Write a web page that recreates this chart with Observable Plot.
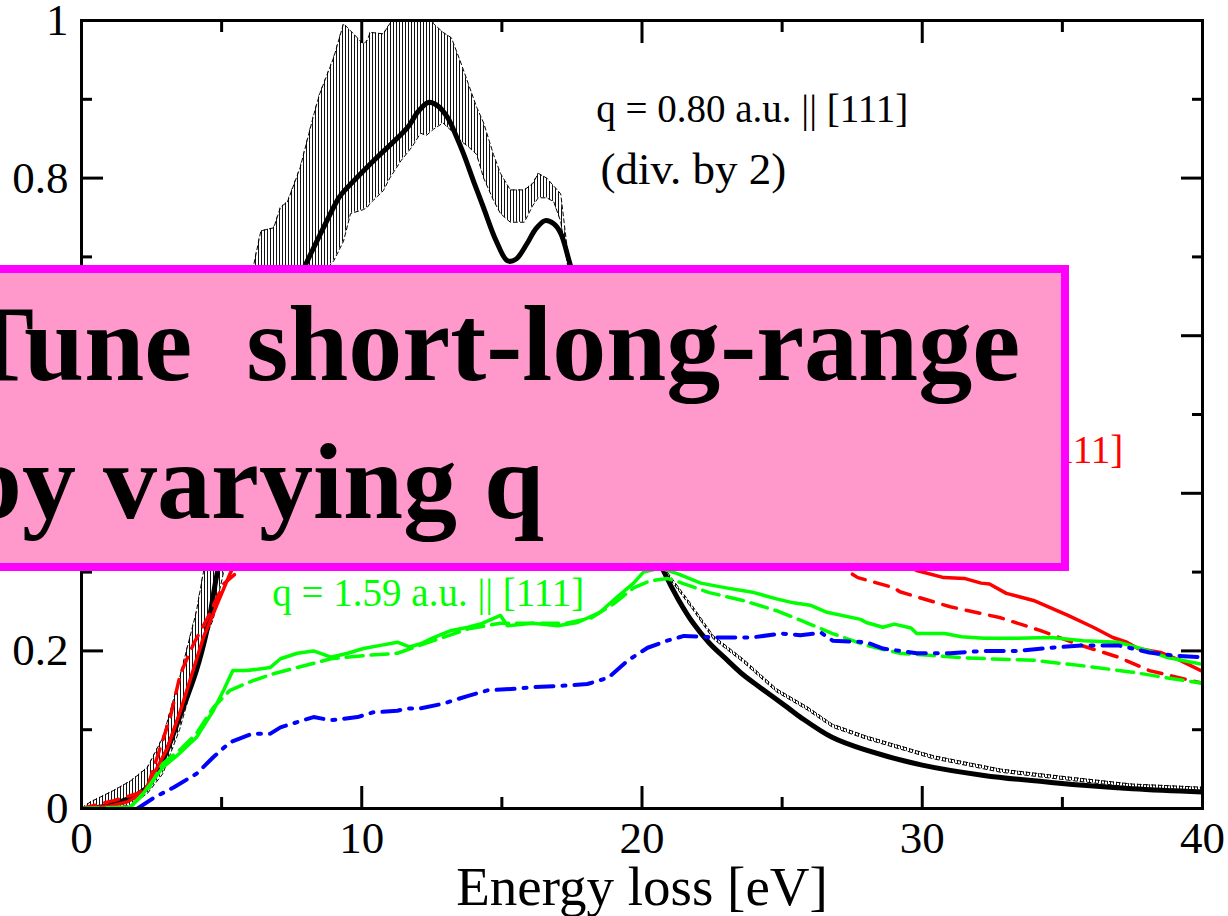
<!DOCTYPE html>
<html>
<head>
<meta charset="utf-8">
<script src="https://cdn.jsdelivr.net/npm/d3@7"></script>
<script src="https://cdn.jsdelivr.net/npm/@observablehq/plot@0.6"></script>
<style>
  html, body { margin: 0; padding: 0; background: #fff; overflow: hidden; }
  #wrap { position: relative; width: 1228px; height: 916px; overflow: hidden; }
  #chart { position: absolute; left: 0; top: 0; }
  #note {
    position: absolute; left: -60px; top: 265px; width: 1129px; height: 306px;
    box-sizing: border-box; border: 8px solid #ff00ff; background: #ff99cc;
    z-index: 5;
  }
  #note div {
    position: absolute; left: 14px; top: 2px; white-space: pre;
    font-family: "Liberation Serif", "Times New Roman", serif; font-weight: bold;
    font-size: 108px; line-height: 138px; color: #000;
  }
</style>
</head>
<body>
<svg width="0" height="0" style="position:absolute">
  <defs>
    <pattern id="vhatch" width="3" height="4" patternUnits="userSpaceOnUse">
      <rect x="0" y="0" width="1" height="4" fill="#111"></rect>
    </pattern>
  </defs>
</svg>
<div id="wrap">
  <div id="chart"></div>
  <div id="note"><div id="noteText"></div></div>
</div>
<script>
// Axis ticks and labels
const xMajor = [0, 10, 20, 30, 40];
const xMinor = [5, 15, 25, 35];
const xTickLabels = ["0", "10", "20", "30", "40"];
const yMajor = [0, 0.2, 0.4, 0.6, 0.8, 1];
const yMinor = [0.1, 0.3, 0.5, 0.7, 0.9];
const yTickLabels = ["0", "0.2", "0.4", "0.6", "0.8", "1"];
const xTitle = "Energy loss [eV]";

// Text
const labelQ080 = "q = 0.80 a.u. || [111]";
const labelDiv2 = "(div. by 2)";
const labelQ119 = "q = 1.19 a.u. || [111]";
const labelQ159 = "q = 1.59 a.u. || [111]";
const noteLines = ["Tune  short-long-range", "by varying q"];

// q = 0.80 a.u., calculation (divided by 2)
const theoryE =    [0, 0.5, 1.0, 1.5, 2.0, 2.35, 2.9, 3.5, 4.1, 4.5, 4.85, 5.5, 6.2, 7.0, 7.6, 8.06, 8.4, 9.1, 9.24, 10.42, 11.63, 12.0, 12.38, 12.7, 13.06, 13.35, 13.63, 14.0, 14.34, 14.8, 15.2, 15.5, 15.9, 16.2, 16.55, 16.85, 17.1, 17.4, 18.0, 18.6, 19.2, 19.8, 20.3, 20.76, 21.3, 21.83, 22.4, 23.05, 23.6, 24.2, 25.2, 25.65, 26.8, 28.0, 30.0, 32.2, 34.6, 37.5, 40];
const theoryLoss = [0, 0.001, 0.004, 0.01, 0.018, 0.027, 0.061, 0.116, 0.175, 0.23, 0.30, 0.40, 0.50, 0.60, 0.66, 0.695, 0.72, 0.77, 0.778, 0.822, 0.864, 0.884, 0.896, 0.892, 0.877, 0.855, 0.831, 0.795, 0.763, 0.72, 0.695, 0.697, 0.717, 0.735, 0.746, 0.742, 0.73, 0.695, 0.62, 0.54, 0.46, 0.39, 0.34, 0.302, 0.265, 0.235, 0.21, 0.188, 0.17, 0.154, 0.128, 0.116, 0.09, 0.074, 0.055, 0.042, 0.033, 0.025, 0.021];

// q = 0.80 a.u., measured band (lower / upper bound)
const bandE =    [0, 0.3, 0.7, 1.15, 1.75, 2.35, 2.9, 3.5, 4.1, 4.35, 4.7, 5.07, 5.5, 6.14, 6.4, 6.86, 7.1, 7.35, 7.8, 8.3, 8.5, 9.0, 9.35, 9.6, 10.06, 10.2, 10.3, 10.77, 11.0, 11.4, 11.8, 12.1, 12.3, 12.56, 12.9, 13.2, 13.5, 13.8, 14.1, 14.35, 14.7, 14.95, 15.3, 15.8, 16.1, 16.3, 16.6, 16.85, 17.1, 17.3, 17.5, 18.0, 19.0, 20.0, 20.9, 21.8, 22.55, 23.6, 24.8, 25.9, 26.8, 28.0, 30.4, 32.8, 35.2, 37.5, 40];
const bandLow =  [0, 0, 0.001, 0.002, 0.004, 0.019, 0.044, 0.10, 0.175, 0.21, 0.24, 0.30, 0.36, 0.44, 0.47, 0.52, 0.55, 0.58, 0.62, 0.66, 0.675, 0.695, 0.72, 0.755, 0.76, 0.763, 0.768, 0.784, 0.80, 0.822, 0.84, 0.857, 0.854, 0.862, 0.87, 0.86, 0.848, 0.84, 0.83, 0.80, 0.772, 0.755, 0.744, 0.744, 0.765, 0.775, 0.775, 0.77, 0.745, 0.70, 0.65, 0.59, 0.45, 0.34, 0.296, 0.253, 0.215, 0.186, 0.148, 0.125, 0.103, 0.088, 0.063, 0.046, 0.036, 0.027, 0.023];
const bandHigh = [0, 0.008, 0.015, 0.023, 0.035, 0.052, 0.09, 0.166, 0.25, 0.30, 0.37, 0.44, 0.52, 0.689, 0.733, 0.737, 0.763, 0.77, 0.813, 0.882, 0.907, 0.953, 0.996, 0.987, 0.97, 0.975, 0.985, 0.983, 0.996, 1.02, 1.04, 1.03, 1.02, 0.996, 0.985, 0.978, 0.95, 0.92, 0.89, 0.87, 0.83, 0.806, 0.785, 0.785, 0.793, 0.806, 0.80, 0.79, 0.78, 0.72, 0.67, 0.61, 0.47, 0.35, 0.30, 0.257, 0.219, 0.19, 0.152, 0.129, 0.107, 0.092, 0.067, 0.05, 0.04, 0.031, 0.027];

// q = 1.19 a.u.
const redSolidE =    [0, 1.0, 1.6, 2.2, 2.46, 2.75, 3.07, 3.53, 3.9, 4.35, 4.85, 5.3, 6, 7, 8, 10, 12, 14, 16, 18, 20, 21, 23, 25, 27, 28.5, 29.8, 30.77, 31.5, 32.1, 32.4, 33.0, 33.97, 35.2, 36.1, 36.8, 37.3, 37.7, 38.5, 39.2, 40];
const redSolidLoss = [0, 0.003, 0.008, 0.019, 0.036, 0.055, 0.077, 0.124, 0.166, 0.217, 0.26, 0.298, 0.35, 0.40, 0.43, 0.46, 0.49, 0.52, 0.54, 0.56, 0.58, 0.56, 0.50, 0.43, 0.36, 0.325, 0.302, 0.293, 0.292, 0.286, 0.285, 0.273, 0.264, 0.245, 0.23, 0.217, 0.211, 0.203, 0.198, 0.188, 0.174];
const redDashE =     [0, 1.15, 2.0, 2.35, 2.7, 3.17, 3.53, 4.0, 4.5, 5.07, 5.56, 6.5, 8, 10, 12, 14, 16, 18, 20, 21, 23, 25, 26.5, 27.3, 27.7, 29.0, 29.2, 31.0, 32.8, 34.2, 35.5, 37.0, 38.1, 40];
const redDashLoss =  [0, 0.01, 0.019, 0.027, 0.065, 0.116, 0.171, 0.209, 0.242, 0.285, 0.30, 0.36, 0.41, 0.44, 0.47, 0.49, 0.50, 0.51, 0.50, 0.48, 0.42, 0.36, 0.32, 0.302, 0.293, 0.28, 0.275, 0.256, 0.242, 0.226, 0.209, 0.192, 0.175, 0.159];

// q = 1.59 a.u.
const greenSolidE =    [0, 1.0, 1.75, 2.2, 2.9, 3.5, 4.1, 4.7, 5.07, 5.4, 5.9, 6.74, 7.1, 7.7, 8.28, 8.9, 9.5, 10.06, 10.67, 11.27, 11.7, 12.1, 12.56, 13.2, 13.8, 14.3, 14.95, 15.2, 16.1, 17.0, 17.7, 18.5, 19.1, 19.7, 20.05, 20.66, 21.26, 22.1, 23.0, 24.0, 24.8, 25.4, 26.0, 26.6, 27.8, 28.0, 28.6, 29.0, 29.6, 29.8, 30.8, 31.4, 32.2, 33.4, 34.6, 35.75, 37.0, 38.1, 38.7, 40];
const greenSolidLoss = [0, 0, 0.002, 0.019, 0.052, 0.07, 0.09, 0.124, 0.15, 0.175, 0.175, 0.179, 0.19, 0.197, 0.20, 0.192, 0.197, 0.203, 0.207, 0.211, 0.205, 0.209, 0.217, 0.226, 0.23, 0.235, 0.245, 0.232, 0.235, 0.232, 0.236, 0.249, 0.268, 0.286, 0.30, 0.305, 0.298, 0.286, 0.28, 0.274, 0.266, 0.261, 0.258, 0.249, 0.24, 0.236, 0.23, 0.234, 0.229, 0.222, 0.222, 0.218, 0.216, 0.216, 0.217, 0.213, 0.211, 0.20, 0.192, 0.183];
const greenDashE =     [0, 1.75, 2.35, 2.9, 3.5, 4.1, 4.7, 5.3, 6.1, 6.85, 7.7, 8.9, 10.06, 11.27, 12.56, 13.8, 14.95, 16.1, 17.3, 18.2, 19.0, 19.7, 20.3, 20.9, 21.26, 22.4, 23.6, 24.8, 25.65, 26.8, 28.0, 29.2, 30.4, 31.6, 34.0, 35.75, 37.5, 38.7, 40];
const greenDashLoss =  [0, 0.002, 0.023, 0.057, 0.074, 0.095, 0.128, 0.15, 0.162, 0.171, 0.179, 0.19, 0.194, 0.197, 0.213, 0.228, 0.235, 0.235, 0.235, 0.242, 0.26, 0.28, 0.289, 0.292, 0.288, 0.274, 0.264, 0.251, 0.239, 0.222, 0.207, 0.197, 0.194, 0.191, 0.188, 0.181, 0.173, 0.166, 0.159];

// dash-dot series
const blueE =    [2.0, 2.6, 3.3, 4.1, 4.7, 5.3, 6.1, 6.74, 7.1, 8.28, 8.9, 9.85, 10.4, 11.27, 11.6, 12.1, 12.9, 13.8, 14.5, 15.55, 16.1, 17.3, 18.05, 18.8, 19.5, 20.2, 20.9, 21.5, 22.7, 23.9, 25.0, 25.65, 26.4, 26.8, 28.0, 28.6, 29.8, 31.0, 32.2, 33.4, 34.6, 35.75, 37.0, 38.1, 39.0, 40];
const blueLoss = [0, 0.014, 0.027, 0.044, 0.065, 0.084, 0.095, 0.095, 0.103, 0.116, 0.112, 0.116, 0.122, 0.124, 0.127, 0.127, 0.133, 0.143, 0.15, 0.152, 0.154, 0.156, 0.158, 0.166, 0.188, 0.204, 0.213, 0.219, 0.217, 0.217, 0.222, 0.22, 0.223, 0.213, 0.211, 0.203, 0.197, 0.197, 0.2, 0.2, 0.204, 0.207, 0.207, 0.198, 0.194, 0.192];

const pairs = (xs, ys) => xs.map((e, i) => ({e, v: ys[i]}));
const band = bandE.map((e, i) => ({e, lo: bandLow[i], hi: bandHigh[i]}));

const serif = "'Liberation Serif', 'Times New Roman', serif";

const chart = Plot.plot({
  width: 1228,
  height: 916,
  marginLeft: 81,
  marginRight: 26,
  marginTop: 20,
  marginBottom: 108,
  style: {fontFamily: serif, background: "transparent", color: "#000"},
  x: {domain: [0, 40]},
  y: {domain: [0, 1]},
  marks: [
    // measured band with vertical hatching
    Plot.areaY(band, {x: "e", y1: "lo", y2: "hi", fill: "url(#vhatch)", clip: true}),
    Plot.line(band, {x: "e", y: "lo", stroke: "#000", strokeWidth: 1, strokeDasharray: "4,3", clip: true}),
    Plot.line(band, {x: "e", y: "hi", stroke: "#000", strokeWidth: 1, strokeDasharray: "4,3", clip: true}),
    // calculation
    Plot.line(pairs(theoryE, theoryLoss), {x: "e", y: "v", stroke: "#000", strokeWidth: 5, curve: "catmull-rom", clip: true}),
    Plot.line(pairs(redDashE, redDashLoss), {x: "e", y: "v", stroke: "#ff0000", strokeWidth: 3.5, strokeDasharray: "14,10", clip: true}),
    Plot.line(pairs(redSolidE, redSolidLoss), {x: "e", y: "v", stroke: "#ff0000", strokeWidth: 3.5, clip: true}),
    Plot.line(pairs(greenDashE, greenDashLoss), {x: "e", y: "v", stroke: "#00ff00", strokeWidth: 3.5, strokeDasharray: "17,8", clip: true}),
    Plot.line(pairs(greenSolidE, greenSolidLoss), {x: "e", y: "v", stroke: "#00ff00", strokeWidth: 3.5, clip: true}),
    Plot.line(pairs(blueE, blueLoss), {x: "e", y: "v", stroke: "#0000ff", strokeWidth: 4, strokeDasharray: "18,9,3,9", clip: true}),
    // curve labels
    Plot.text([labelQ080], {x: 18.37, y: 0.8706, textAnchor: "start", lineAnchor: "bottom", fontSize: 39, fill: "#000"}),
    Plot.text([labelDiv2], {x: 18.52, y: 0.792, textAnchor: "start", lineAnchor: "bottom", fontSize: 45, fill: "#000"}),
    Plot.text([labelQ119], {x: 37.17, y: 0.439, textAnchor: "end", lineAnchor: "bottom", fontSize: 39, fill: "#ff0000"}),
    Plot.text([labelQ159], {x: 6.81, y: 0.2576, textAnchor: "start", lineAnchor: "bottom", fontSize: 39, fill: "#00ff00"}),
    // frame and inward ticks on all four sides
    Plot.frame({stroke: "#000", strokeWidth: 3}),
    Plot.axisX(xMajor, {anchor: "bottom", tickSize: 22, insetBottom: 22, strokeWidth: 3, fill: "none", label: null}),
    Plot.axisX(xMinor, {anchor: "bottom", tickSize: 11, insetBottom: 11, strokeWidth: 3, fill: "none", label: null}),
    Plot.axisX(xMajor, {anchor: "top", tickSize: 22, insetTop: 22, strokeWidth: 3, fill: "none", label: null}),
    Plot.axisX(xMinor, {anchor: "top", tickSize: 11, insetTop: 11, strokeWidth: 3, fill: "none", label: null}),
    Plot.axisY(yMajor, {anchor: "left", tickSize: 22, insetLeft: 22, strokeWidth: 3, fill: "none", label: null}),
    Plot.axisY(yMinor, {anchor: "left", tickSize: 11, insetLeft: 11, strokeWidth: 3, fill: "none", label: null}),
    Plot.axisY(yMajor, {anchor: "right", tickSize: 22, insetRight: 22, strokeWidth: 3, fill: "none", label: null}),
    Plot.axisY(yMinor, {anchor: "right", tickSize: 11, insetRight: 11, strokeWidth: 3, fill: "none", label: null}),
    // tick labels
    Plot.axisX(xMajor, {anchor: "bottom", tickSize: 0, tickPadding: 13, fontSize: 45, fill: "#000",
      tickFormat: d => xTickLabels[xMajor.indexOf(d)], label: null}),
    Plot.axisY(yMajor, {anchor: "left", tickSize: 0, tickPadding: 13, fontSize: 45, fill: "#000",
      tickFormat: d => yTickLabels[yMajor.indexOf(d)], label: null}),
    // axis title
    Plot.text([xTitle], {frameAnchor: "bottom", dy: 96, lineAnchor: "bottom", fontSize: 55, fill: "#000"})
  ]
});

document.getElementById("chart").append(chart);
document.getElementById("noteText").textContent = noteLines.join("\n");
</script>
</body>
</html>
